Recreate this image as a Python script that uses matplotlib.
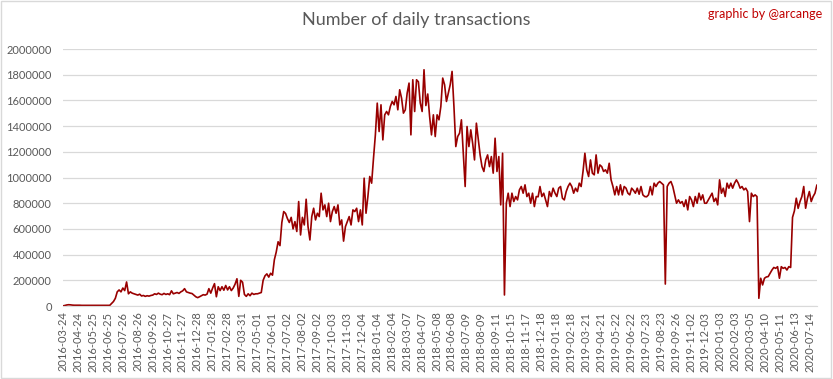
import numpy as np
import matplotlib
matplotlib.use("Agg")
import matplotlib.pyplot as plt
from matplotlib.patches import Rectangle

plt.rcParams['font.family'] = ['Lato', 'DejaVu Sans']

# x axis: one label every 31 categories (dates with a few gaps)
tick_labels = [
    "2016-03-24", "2016-04-24", "2016-05-25", "2016-06-25", "2016-07-26",
    "2016-08-26", "2016-09-26", "2016-10-27", "2016-11-27", "2016-12-28",
    "2017-01-28", "2017-02-28", "2017-03-31", "2017-05-01", "2017-06-01",
    "2017-07-02", "2017-08-02", "2017-09-02", "2017-10-03", "2017-11-03",
    "2017-12-04", "2018-01-04", "2018-02-04", "2018-03-07", "2018-04-07",
    "2018-05-08", "2018-06-08", "2018-07-09", "2018-08-09", "2018-09-11",
    "2018-10-15", "2018-11-17", "2018-12-18", "2019-01-18", "2019-02-18",
    "2019-03-21", "2019-04-21", "2019-05-22", "2019-06-22", "2019-07-23",
    "2019-08-23", "2019-09-26", "2019-11-02", "2019-12-03", "2020-01-03",
    "2020-02-03", "2020-03-05", "2020-04-10", "2020-05-11", "2020-06-13",
    "2020-07-14",
]
days_per_tick = 31
n_days = 1565

tx_k = [
    1, 4, 8, 10, 9, 7, 6, 6,
    6, 6, 5, 5, 5, 5, 5, 5,
    5, 5, 5, 5, 5, 5, 5, 5,
    5, 5, 20, 35, 60, 110, 125, 110,
    140, 120, 187, 95, 110, 100, 95, 90,
    85, 92, 78, 82, 75, 80, 77, 82,
    85, 95, 90, 100, 92, 88, 98, 90,
    95, 88, 118, 95, 100, 105, 98, 110,
    118, 135, 110, 105, 100, 97, 85, 72,
    65, 72, 80, 88, 85, 92, 135, 100,
    140, 174, 72, 150, 120, 150, 123, 160,
    125, 150, 120, 140, 170, 212, 75, 200,
    185, 90, 75, 95, 80, 100, 90, 95,
    95, 100, 105, 200, 235, 250, 225, 255,
    240, 360, 420, 500, 470, 650, 735, 720,
    680, 650, 690, 600, 657, 580, 813, 553,
    690, 631, 831, 618, 514, 696, 761, 670,
    722, 696, 878, 748, 787, 696, 800, 657,
    735, 774, 722, 787, 631, 670, 505, 618,
    657, 696, 631, 748, 735, 761, 657, 748,
    631, 995, 722, 852, 1008, 956, 1150, 1332,
    1579, 1358, 1566, 1293, 1488, 1514, 1488, 1553,
    1592, 1566, 1631, 1527, 1683, 1618, 1501, 1527,
    1657, 1735, 1332, 1761, 1514, 1761, 1745, 1580,
    1514, 1839, 1560, 1650, 1475, 1332, 1488, 1319,
    1488, 1449, 1553, 1774, 1722, 1592, 1657, 1722,
    1826, 1553, 1241, 1319, 1345, 1449, 1189, 930,
    1397, 1241, 1371, 1267, 1137, 1423, 1300, 1176,
    1085, 1047, 1137, 1176, 1085, 1163, 1034, 1306,
    1047, 1163, 787, 1189, 86, 800, 878, 774,
    878, 813, 852, 826, 904, 930, 878, 943,
    852, 878, 800, 878, 774, 852, 850, 930,
    852, 878, 826, 774, 891, 852, 917, 880,
    852, 917, 930, 839, 826, 890, 930, 956,
    930, 878, 917, 891, 956, 930, 1047, 1189,
    1060, 1008, 1137, 1034, 1021, 1176, 1034, 1098,
    1085, 1047, 1060, 1034, 1111, 982, 930, 865,
    930, 865, 943, 865, 930, 917, 878, 865,
    917, 900, 878, 917, 870, 930, 865, 852,
    850, 865, 930, 865, 956, 930, 956, 969,
    956, 943, 171, 930, 956, 969, 930, 865,
    800, 826, 800, 813, 774, 826, 748, 852,
    826, 774, 852, 800, 878, 826, 865, 800,
    800, 826, 852, 878, 813, 839, 787, 982,
    878, 917, 852, 956, 917, 956, 917, 956,
    982, 956, 917, 930, 904, 917, 891, 657,
    878, 852, 865, 852, 60, 216, 164, 216,
    226, 229, 254, 280, 300, 293, 306, 216,
    306, 293, 300, 280, 306, 300, 690, 740,
    839, 760, 813, 852, 930, 761, 839, 891,
    813, 852, 878, 940,
]

values = np.array(tx_k) * 1000
x = np.linspace(0, n_days - 1, len(values))

fig = plt.figure(figsize=(8.33, 3.79), dpi=100)
ax = fig.add_axes([0.0756, 0.1926, 0.905, 0.678])

ax.plot(x, values, color='#990000', lw=1.2)

ax.set_xlim(0, n_days - 1)
ax.set_ylim(0, 2000000)
ax.set_yticks(np.arange(0, 2000001, 200000))
ax.set_yticklabels([str(v) for v in range(0, 2000001, 200000)])
ax.set_xticks(np.arange(len(tick_labels)) * days_per_tick)
ax.set_xticklabels(tick_labels, rotation=90)

ax.grid(axis='y', color='#d9d9d9', lw=0.9)
ax.set_axisbelow(True)
for s in ['left', 'right', 'top']:
    ax.spines[s].set_visible(False)
ax.spines['bottom'].set_color('#d9d9d9')
ax.tick_params(axis='both', length=0, colors='#595959', labelsize=8)
ax.tick_params(axis='y', pad=8)
ax.tick_params(axis='x', pad=4)

fig.text(0.5, 0.947, "Number of daily transactions", ha='center', va='center',
         fontsize=13, color='#595959')
fig.text(0.987, 0.963, "graphic by @arcange", ha='right', va='center',
         fontsize=9, color='#c00000')

fig.patches.append(Rectangle((0.001, 0.002), 0.997, 0.995, transform=fig.transFigure,
                             fill=False, edgecolor='#d9d9d9', lw=1))

fig.savefig("out.png", dpi=100)
